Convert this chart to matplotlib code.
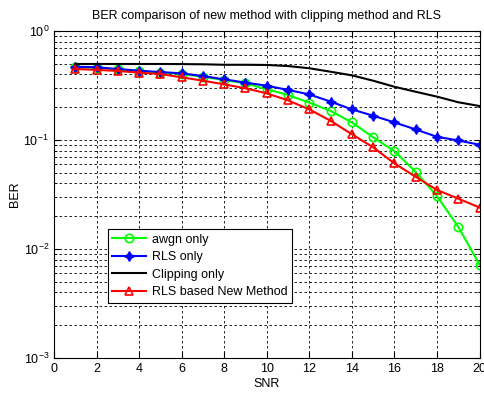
import numpy as np
import matplotlib
matplotlib.use("Agg")
import matplotlib.pyplot as plt
from matplotlib.ticker import LogLocator, NullFormatter

plt.rcParams["font.family"] = ["Liberation Sans", "DejaVu Sans"]
plt.rcParams["mathtext.default"] = "regular"

# ── data ───────────────────────────────────────────────────────────────────
snr = list(range(1, 21))
awgn_only = [0.465, 0.46, 0.445, 0.43, 0.415, 0.405, 0.38, 0.355, 0.331, 0.292,
             0.259, 0.22, 0.185, 0.145, 0.106, 0.079, 0.051, 0.0306, 0.016, 0.0072]
rls_only = [0.47, 0.465, 0.448, 0.432, 0.42, 0.409, 0.386, 0.36, 0.336, 0.315,
            0.288, 0.262, 0.225, 0.191, 0.167, 0.145, 0.125, 0.107, 0.099, 0.0905]
clipping_only = [0.498, 0.498, 0.498, 0.498, 0.498, 0.497, 0.495, 0.49, 0.49, 0.488,
                 0.477, 0.455, 0.423, 0.392, 0.35, 0.308, 0.277, 0.25, 0.222, 0.205]
rls_new = [0.448, 0.44, 0.43, 0.415, 0.403, 0.376, 0.35, 0.324, 0.298, 0.268,
           0.231, 0.191, 0.15, 0.113, 0.0857, 0.061, 0.046, 0.0348, 0.029, 0.024]

# ── figure ─────────────────────────────────────────────────────────────────
fig = plt.figure(figsize=(4.84, 3.94), dpi=100)
ax = fig.add_axes([54 / 484, 1 - 358 / 394, 425.5 / 484, 327 / 394])

ax.plot(snr, awgn_only, color="#00ff00", lw=1.5, marker="o", ms=6,
        mfc="none", mew=1.2, label="awgn only")
ax.plot(snr, rls_only, color="#0000ff", lw=1.5, marker=(4, 1, 0), ms=7,
        label="RLS only")
ax.plot(snr, clipping_only, color="black", lw=1.5, label="Clipping only")
ax.plot(snr, rls_new, color="#ff0000", lw=1.5, marker="^", ms=6,
        mfc="none", mew=1.2, label="RLS based New Method")

ax.set_yscale("log")
ax.set_xlim(0, 20)
ax.set_ylim(1e-3, 1)
ax.set_xticks(range(0, 21, 2))
ax.yaxis.set_major_locator(LogLocator(base=10, numticks=10))
ax.yaxis.set_minor_locator(LogLocator(base=10, subs=np.arange(2, 10), numticks=10))
ax.yaxis.set_minor_formatter(NullFormatter())
ax.tick_params(which="both", direction="in", top=True, right=True, labelsize=9)
ax.tick_params(which="major", length=4)
ax.tick_params(which="minor", length=2)

ax.grid(which="major", linestyle=(0, (3, 3)), color="black", lw=0.6)
ax.grid(which="minor", axis="y", linestyle=(0, (3, 3)), color="black", lw=0.6)

ax.set_xlabel("SNR", fontsize=9, labelpad=2)
ax.set_ylabel("BER", fontsize=9, labelpad=2)
ax.set_title("BER comparison of new method with clipping method and RLS",
             fontsize=9, pad=9)

leg = ax.legend(loc="upper left", bbox_to_anchor=(0.127, 0.394), fontsize=9,
                frameon=True, fancybox=False, edgecolor="black", framealpha=1,
                handlelength=2.7, borderpad=0.35, labelspacing=0.45,
                handletextpad=0.5, borderaxespad=0)
leg.get_frame().set_linewidth(0.8)

fig.savefig("out.png", dpi=100)
